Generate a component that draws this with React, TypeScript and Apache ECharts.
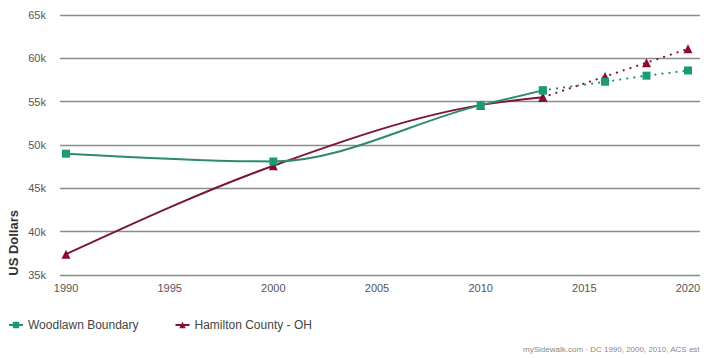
import React, { useEffect, useRef } from "react";
import * as echarts from "echarts";

const years = [1990, 2000, 2010, 2013];
const projYears = [2013, 2016, 2018, 2020];
const woodlawn = [49000, 48100, 54600, 56300];
const woodlawnProj = [56300, 57300, 58000, 58600];
const hamilton = [37400, 47600, 54600, 55500];
const hamiltonProj = [55500, 57900, 59500, 61100];
const xTicks = [1990, 1995, 2000, 2005, 2010, 2015, 2020];
const yTicks = [35000, 40000, 45000, 50000, 55000, 60000, 65000];

const GREEN_LINE = "#2e8a6e";
const GREEN_MARK = "#1c9a78";
const RED_LINE = "#7a1832";
const RED_MARK = "#8a0d2e";

// monotone-x cubic path (same rule as d3.curveMonotoneX) through pixel points
function monotonePath(pts: number[][]): string {
  const n = pts.length;
  const sign = (v: number) => (v < 0 ? -1 : 1);
  const t: number[] = new Array(n).fill(0);
  for (let i = 1; i < n - 1; i++) {
    const [x0, y0] = pts[i - 1];
    const [x1, y1] = pts[i];
    const [x2, y2] = pts[i + 1];
    const h0 = x1 - x0, h1 = x2 - x1;
    const s0 = (y1 - y0) / h0, s1 = (y2 - y1) / h1;
    const p = (s0 * h1 + s1 * h0) / (h0 + h1);
    t[i] = (sign(s0) + sign(s1)) * Math.min(Math.abs(s0), Math.abs(s1), 0.5 * Math.abs(p)) || 0;
  }
  if (n > 2) {
    const h0 = pts[1][0] - pts[0][0];
    t[0] = (3 * (pts[1][1] - pts[0][1]) / h0 - t[1]) / 2;
    const hn = pts[n - 1][0] - pts[n - 2][0];
    t[n - 1] = (3 * (pts[n - 1][1] - pts[n - 2][1]) / hn - t[n - 2]) / 2;
  }
  let d = `M${pts[0][0]},${pts[0][1]}`;
  for (let i = 0; i < n - 1; i++) {
    const [x0, y0] = pts[i];
    const [x1, y1] = pts[i + 1];
    const dx = (x1 - x0) / 3;
    d += ` C${x0 + dx},${y0 + dx * t[i]} ${x1 - dx},${y1 - dx * t[i + 1]} ${x1},${y1}`;
  }
  return d;
}

export default function App() {
  const ref = useRef<HTMLDivElement>(null);
  useEffect(() => {
    if (!ref.current) return;
    const chart = echarts.init(ref.current, null, { renderer: "svg" });
    const pair = (xs: number[], ys: number[]) => xs.map((x, i) => [x, ys[i]]);
    const curve = (xs: number[], ys: number[], color: string, z: number) => ({
      type: "custom",
      silent: true,
      z,
      data: [[xs[0], ys[0]]],
      clip: false,
      renderItem: (_params: any, api: any) => {
        const pts = xs.map((x, i) => api.coord([x, ys[i]]));
        return {
          type: "path",
          shape: { pathData: monotonePath(pts) },
          style: { stroke: color, lineWidth: 2, fill: "none" },
        };
      },
    });
    chart.setOption({
      animation: false,
      textStyle: { fontFamily: "Liberation Sans, Arial, sans-serif" },
      grid: { left: 60, right: 4, top: 15, bottom: 83, containLabel: false },
      xAxis: {
        type: "value",
        min: 1989.71,
        max: 2020.58,
        axisLine: { show: false },
        axisTick: { show: false },
        splitLine: { show: false },
        axisLabel: {
          color: "#555555",
          fontSize: 11,
          margin: 7,
          customValues: xTicks,
          formatter: (v: number) => String(v),
        },
      },
      yAxis: {
        type: "value",
        min: yTicks[0],
        max: yTicks[yTicks.length - 1],
        interval: 5000,
        axisLine: { show: false },
        axisTick: { show: false },
        splitLine: { lineStyle: { color: "#8c8c8c", width: 1.3 } },
        axisLabel: {
          color: "#555555",
          fontSize: 11,
          margin: 14,
          formatter: (v: number) => v / 1000 + "k",
        },
      },
      legend: {
        left: 3,
        top: 314,
        itemWidth: 14,
        itemHeight: 8,
        itemGap: 36,
        textStyle: { color: "#444", fontSize: 12 },
        lineStyle: { opacity: 1, width: 2 },
        data: ["Woodlawn Boundary", "Hamilton County - OH"],
      },
      graphic: [
        {
          type: "text",
          left: 7,
          top: 210,
          rotation: Math.PI / 2,
          style: {
            text: "US Dollars",
            fill: "#333",
            font: "bold 13px Liberation Sans, Arial, sans-serif",
          },
        },
        {
          type: "text",
          right: 4,
          top: 345,
          style: {
            text: "mySidewalk.com · DC 1990, 2000, 2010, ACS est",
            fill: "#888",
            font: "8px Liberation Sans, Arial, sans-serif",
          },
        },
      ],
      series: [
        curve(years, hamilton, RED_LINE, 2),
        curve(years, woodlawn, GREEN_LINE, 3),
        {
          name: "Woodlawn Boundary",
          type: "line",
          data: pair(years, woodlawn),
          symbol: "rect",
          symbolSize: 8,
          lineStyle: { color: GREEN_LINE, width: 2, opacity: 0 },
          itemStyle: { color: GREEN_MARK },
          z: 5,
        },
        {
          name: "Hamilton County - OH",
          type: "line",
          data: pair(years, hamilton),
          symbol: "triangle",
          symbolSize: 9,
          lineStyle: { color: RED_LINE, width: 2, opacity: 0 },
          itemStyle: { color: RED_MARK },
          z: 4,
        },
        {
          name: "Woodlawn Boundary",
          type: "line",
          data: pair(projYears, woodlawnProj),
          symbol: "rect",
          symbolSize: 8,
          lineStyle: { color: GREEN_LINE, width: 2.2, type: [0.1, 7], cap: "round" },
          itemStyle: { color: GREEN_MARK },
          z: 5,
        },
        {
          name: "Hamilton County - OH",
          type: "line",
          data: pair(projYears, hamiltonProj),
          symbol: "triangle",
          symbolSize: 9,
          lineStyle: { color: RED_LINE, width: 2.2, type: [0.1, 7], cap: "round" },
          itemStyle: { color: RED_MARK },
          z: 4,
        },
      ],
    });
    return () => chart.dispose();
  }, []);
  return <div ref={ref} style={{ width: 704, height: 358, position: "absolute", left: 0, top: 0 }} />;
}
